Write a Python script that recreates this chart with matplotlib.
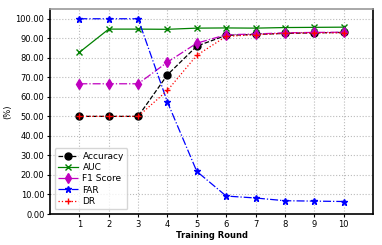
import matplotlib
matplotlib.use("Agg")
import matplotlib.pyplot as plt
from matplotlib.ticker import FormatStrFormatter

rounds = [1, 2, 3, 4, 5, 6, 7, 8, 9, 10]
accuracy = [50.0, 50.0, 50.0, 71.3, 86.0, 91.5, 92.0, 92.5, 92.8, 93.0]
auc = [82.8, 94.7, 94.7, 94.6, 95.2, 95.3, 95.2, 95.5, 95.6, 95.7]
f1 = [66.7, 66.7, 66.7, 77.8, 87.5, 91.8, 92.2, 92.8, 93.0, 93.1]
far = [100.0, 100.0, 100.0, 57.3, 21.8, 9.2, 8.2, 6.8, 6.6, 6.4]
dr = [50.0, 50.0, 50.0, 63.3, 81.3, 91.0, 91.8, 92.6, 92.8, 92.8]

fig = plt.figure(figsize=(3.82, 2.45), dpi=100)
ax = fig.add_axes([50/382, 1-214/245, 323/382, 205/245])

ax.plot(rounds, accuracy, 'k--', marker='o', ms=5, lw=0.9, label='Accuracy', zorder=3)
ax.plot(rounds, auc, color='green', ls='-', marker='x', ms=5, lw=0.9, label='AUC', zorder=3)
ax.plot(rounds, f1, color='m', ls='-.', marker='d', ms=5, lw=0.9, label='F1 Score', zorder=3)
ax.plot(rounds, far, color='blue', ls='-.', marker='*', ms=5, lw=0.9, label='FAR', zorder=3)
ax.plot(rounds, dr, color='red', ls=':', marker='+', ms=5, lw=0.9, label='DR', zorder=3)

ax.set_xlim(0, 11)
ax.set_ylim(0, 105)
ax.set_xticks(rounds)
ax.set_yticks(range(0, 101, 10))
ax.yaxis.set_major_formatter(FormatStrFormatter('%.2f'))
ax.tick_params(labelsize=6, length=2, pad=2)
ax.grid(True, ls=':', color='#bbbbbb', lw=0.8)
ax.set_xlabel('Training Round', fontsize=6, fontweight='bold', labelpad=2)
ax.set_ylabel('(%)', fontsize=6)
ax.yaxis.set_label_coords(-38/323, 0.5 - 0.0)
for s in ax.spines.values():
    s.set_linewidth(1.2)
ax.spines['top'].set_color('#999999')
ax.legend(loc='lower left', fontsize=6.5, handlelength=2.2, borderpad=0.4, labelspacing=0.25, handletextpad=0.5)

fig.savefig('out.png', dpi=100)
